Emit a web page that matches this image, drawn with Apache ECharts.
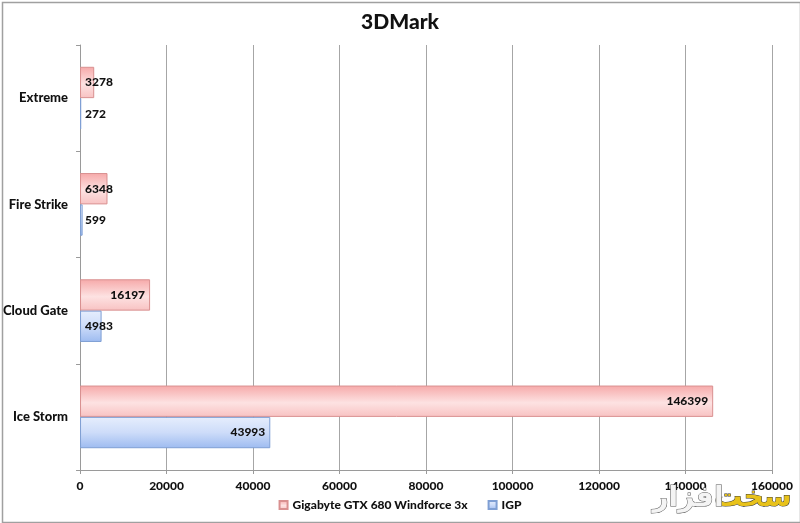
<!DOCTYPE html>
<html><head><meta charset="utf-8">
<script src="https://cdn.jsdelivr.net/npm/echarts@6/dist/echarts.min.js"></script>
<style>html,body{margin:0;padding:0;background:#fff}#c{width:800px;height:523px}</style>
</head><body><div id="c"></div>
<script>
const categories = ['Ice Storm', 'Cloud Gate', 'Fire Strike', 'Extreme'];
const seriesNames = ['Gigabyte GTX 680 Windforce 3x', 'IGP'];
const gtx680 = [146399, 16197, 6348, 3278];
const igp = [43993, 4983, 599, 272];
const xTicks = [0, 20000, 40000, 60000, 80000, 100000, 120000, 140000, 160000];

const FONT = 'Lato, sans-serif';
const AXMAX = xTicks[xTicks.length - 1];
function withLabels(arr) {
  return arr.map(v => ({
    value: v,
    label: { position: (v / AXMAX * 692 < 45) ? 'insideLeft' : 'insideRight' }
  }));
}
const chart = echarts.init(document.getElementById('c'));
chart.setOption({
  animation: false,
  backgroundColor: '#fff',
  title: { text: '3DMark', left: 'center', top: 7,
    textStyle: { fontFamily: FONT, fontSize: 21, fontWeight: 900, color: '#111' } },
  grid: { left: 80, right: 28, top: 45, bottom: 53, containLabel: false },
  legend: {
    data: seriesNames, bottom: 7, left: 'center', itemWidth: 8, itemHeight: 8, itemGap: 20,
    icon: 'rect',
    textStyle: { fontFamily: FONT, fontSize: 12, fontWeight: 900, color: '#111' }
  },
  xAxis: {
    type: 'value', min: 0, max: AXMAX, interval: 20000,
    axisLine: { show: true, lineStyle: { color: '#9a9a9a' } },
    axisTick: { show: true, length: 4, lineStyle: { color: '#9a9a9a' } },
    splitLine: { show: true, lineStyle: { color: '#a6a6a6', width: 1 } },
    axisLabel: { fontFamily: FONT, fontSize: 12, fontWeight: 900, color: '#111', margin: 10,
      formatter: v => String(v) }
  },
  yAxis: {
    type: 'category', data: categories,
    axisLine: { show: true, lineStyle: { color: '#9a9a9a' } },
    axisTick: { show: true, length: 4, lineStyle: { color: '#9a9a9a' } },
    axisLabel: { fontFamily: FONT, fontSize: 13, fontWeight: 900, color: '#111', margin: 12 }
  },
  series: [
    {
      name: seriesNames[0], type: 'bar', data: withLabels(gtx680),
      barGap: '0%', barCategoryGap: '41%',
      itemStyle: {
        color: new echarts.graphic.LinearGradient(0, 0, 0, 1, [
          { offset: 0, color: '#f6a9a9' }, { offset: 0.55, color: '#fde2e2' }, { offset: 1, color: '#f8c2c2' }
        ]),
        borderColor: '#d99090', borderWidth: 1
      },
      label: { show: true, distance: 5, fontFamily: FONT, fontSize: 12, fontWeight: 900, color: '#111' }
    },
    {
      name: seriesNames[1], type: 'bar', data: withLabels(igp),
      barGap: '0%', barCategoryGap: '41%',
      itemStyle: {
        color: new echarts.graphic.LinearGradient(0, 0, 0, 1, [
          { offset: 0, color: '#e6eefd' }, { offset: 0.5, color: '#cddcf9' }, { offset: 1, color: '#9dbbf0' }
        ]),
        borderColor: '#7f9fd4', borderWidth: 1
      },
      label: { show: true, distance: 5, fontFamily: FONT, fontSize: 12, fontWeight: 900, color: '#111' }
    }
  ],
  graphic: [
    { type: 'rect', left: 0, top: 0, shape: { width: 798, height: 520 },
      style: { fill: 'none', stroke: '#a0a0a0', lineWidth: 1.5 }, silent: true, z: 100 },
    { type: 'text', right: 8, top: 484, z: 100,
      style: { text: 'سخت', fontFamily: '"DejaVu Sans", sans-serif', fontSize: 28, fontWeight: 'bold',
        fill: '#e8c21a', stroke: '#333', lineWidth: 1 } },
    { type: 'text', right: 76, top: 484, z: 100,
      style: { text: 'افزار', fontFamily: '"DejaVu Sans", sans-serif', fontSize: 28, fontWeight: 'bold',
        fill: '#f4f4f4', stroke: '#555', lineWidth: 1 } }
  ]
});
</script></body></html>
